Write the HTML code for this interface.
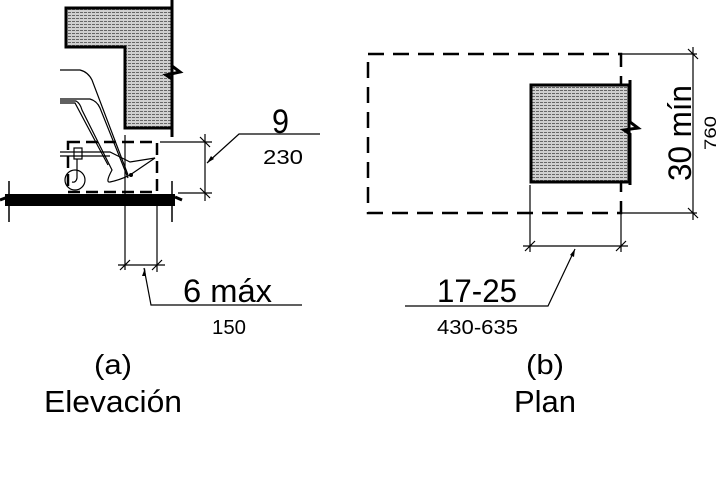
<!DOCTYPE html>
<html><head><meta charset="utf-8"><style>html,body{margin:0;padding:0;background:#fff}svg{display:block}text{font-family:"Liberation Sans",sans-serif;fill:#000}</style></head>
<body>
<svg width="720" height="491" viewBox="0 0 720 491" xmlns="http://www.w3.org/2000/svg">
<defs>
<pattern id="st" width="4" height="3" patternUnits="userSpaceOnUse"><rect width="4" height="3" fill="#cfcfcf"/><rect width="3" height="1" fill="#666"/></pattern>
</defs>
<path d="M66,8 H172 V128 H125 V47 H66 Z" fill="url(#st)" stroke="#000" stroke-width="3"/>
<path d="M172,0 V66 L180,72 L166,75 L172,79 V137" fill="none" stroke="#000" stroke-width="3"/>
<rect x="68" y="142" width="89" height="50" fill="none" stroke="#000" stroke-width="2.5" stroke-dasharray="12,6"/>
<g fill="none" stroke="#000" stroke-width="1.2">
<path d="M60,70 H80 Q88,72 92,80 L128,175"/>
<path d="M60,99 H90 Q97,101 100,108 L128,178"/>
<path d="M60,101 H76 Q80,103 82,110 L112,170 Q105,183 110,182 Q120,180 130,175"/>
<path d="M60,103 H75 L108,165"/>
<path d="M60,152 H110 L130,162 L155,158 L130,175"/>
<path d="M60,156 H110"/>
<rect x="74" y="148" width="8" height="11"/>
<circle cx="75" cy="180" r="10"/>
<path d="M77,159 V178 Q76,183 72,182"/>
<line x1="125" y1="135" x2="125" y2="270"/>
</g>
<circle cx="131" cy="175" r="2" fill="#000"/>
<rect x="5" y="194" width="170" height="12" fill="#000"/>
<path d="M0,200 L8,197 M175,197 L182,200" stroke="#000" stroke-width="3"/>
<line x1="9" y1="181" x2="9" y2="222" stroke="#000" stroke-width="1.5"/>
<line x1="172" y1="181" x2="172" y2="222" stroke="#000" stroke-width="1.5"/>
<g stroke="#000" stroke-width="1.2" fill="none">
<line x1="160" y1="142" x2="212" y2="142"/>
<line x1="178" y1="193" x2="212" y2="193"/>
<line x1="205" y1="134" x2="205" y2="201"/>
<path d="M200,137 L210,147 M200,188 L210,198"/>
<path d="M207,163 L239,134 H320"/>
<line x1="157" y1="206" x2="157" y2="272"/>
<line x1="118" y1="265" x2="165" y2="265"/>
<path d="M120,270 L130,260 M152,270 L162,260"/>
<path d="M144,268 L151,305 H302"/>
<path d="M530,185 V252 M621,213 V252 M523,246 H628 M525,251 L535,241 M616,251 L626,241"/>
<path d="M575,249 L548,306 H405"/>
<path d="M621,54 H697 M621,213 H697 M693,47 V220 M688,49 L698,59 M688,208 L698,218"/>
</g>
<path d="M207,163 l4,-7 l3,3 z M575,249 l-1,8 l-4,-2 z M145,268 l1,8 l-4,0 z" fill="#000"/>
<rect x="368" y="54" width="253" height="159" fill="none" stroke="#000" stroke-width="2.5" stroke-dasharray="16,9"/>
<rect x="531" y="85" width="98" height="97" fill="url(#st)" stroke="#000" stroke-width="3"/>
<path d="M630,80 V122 L638,128 L624,130 L630,134 V185" fill="none" stroke="#000" stroke-width="3"/>
<text x="272" y="133" font-size="34" textLength="17" lengthAdjust="spacingAndGlyphs">9</text>
<text x="263" y="164" font-size="20" textLength="40" lengthAdjust="spacingAndGlyphs">230</text>
<text x="183" y="302" font-size="32" textLength="89" lengthAdjust="spacingAndGlyphs">6 máx</text>
<text x="212" y="334" font-size="20" textLength="34" lengthAdjust="spacingAndGlyphs">150</text>
<text x="437" y="302" font-size="32" textLength="80" lengthAdjust="spacingAndGlyphs">17-25</text>
<text x="437" y="334" font-size="20" textLength="81" lengthAdjust="spacingAndGlyphs">430-635</text>
<text x="113" y="374" font-size="28" text-anchor="middle" textLength="38" lengthAdjust="spacingAndGlyphs">(a)</text>
<text x="113" y="412" font-size="31" text-anchor="middle" textLength="138" lengthAdjust="spacingAndGlyphs">Elevación</text>
<text x="545" y="374" font-size="28" text-anchor="middle" textLength="38" lengthAdjust="spacingAndGlyphs">(b)</text>
<text x="545" y="412" font-size="31" text-anchor="middle" textLength="62" lengthAdjust="spacingAndGlyphs">Plan</text>
<text transform="translate(691,133) rotate(-90)" font-size="32" text-anchor="middle" textLength="96" lengthAdjust="spacingAndGlyphs">30 mín</text>
<text transform="translate(716,133) rotate(-90)" font-size="17" text-anchor="middle" textLength="34" lengthAdjust="spacingAndGlyphs">760</text>
</svg>
</body></html>
